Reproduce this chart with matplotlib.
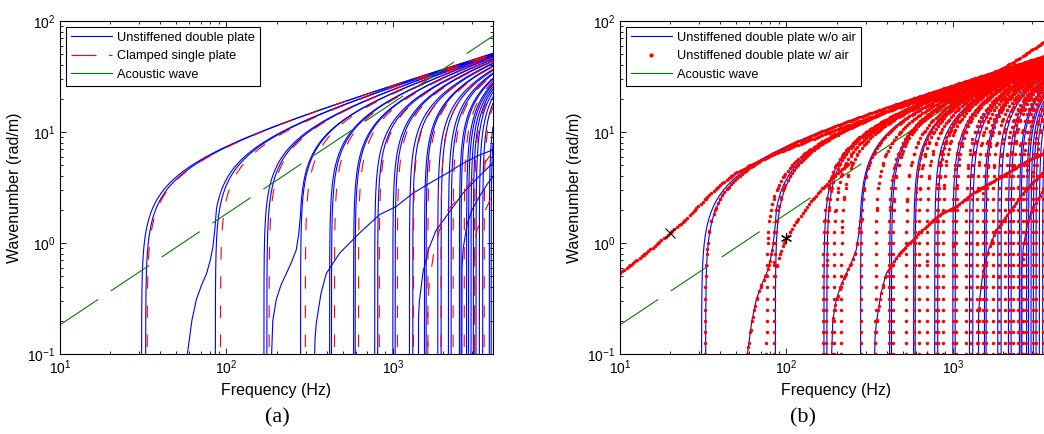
import numpy as np
import matplotlib
matplotlib.use("Agg")
import matplotlib.pyplot as plt
from matplotlib.lines import Line2D

plt.rcParams['font.family'] = ['Liberation Sans', 'DejaVu Sans']
plt.rcParams['mathtext.fontset'] = 'custom'
plt.rcParams['mathtext.rm'] = 'Liberation Sans'
plt.rcParams['lines.scale_dashes'] = False

F_MAX = 4000.0
# bending wave: k_b = KB_C * f**KB_Q  (about 50 rad/m at 4 kHz on the first branch)
KB_C = 1.04
KB_Q = 0.47

# cut-on frequencies (Hz) read at k = 0.1 rad/m
blue_cuton = [30.9, 32.7, 85.8, 168, 175, 279, 417, 428, 581, 594, 778, 811,
              1000, 1033, 1259, 1318, 1549, 1585, 1862, 1950, 2158, 2240,
              2512, 2570, 2773, 2850, 2951, 3048, 3162, 3311, 3467, 3800, 3900]
red_cuton = [33.4, 92.1, 180.5, 298, 446, 622, 829, 1065, 1330, 1624, 1948,
             2302, 2685, 3097, 3539]
air_cuton = [32.4, 75.9, 84.2, 166, 174, 192, 213, 279, 343, 412, 436, 524,
             588, 624, 697, 794, 813, 871, 1000, 1047, 1202, 1288, 1393, 1514,
             1585, 1738, 1884, 2065, 2188, 2290, 2455, 2630, 2754, 3020, 3162,
             3470, 3800]

# slanted (coupled) branches of the double plate, (Hz, rad/m)
s1_f = [58.3, 62, 66, 71, 76, 80, 83, 85.5, 87]
s1_k = [0.1, 0.2, 0.31, 0.42, 0.53, 0.7, 0.93, 1.4, 2.0]
s2_f = [187, 190, 199.5, 213, 229, 247, 263, 272, 278]
s2_k = [0.1, 0.2, 0.31, 0.42, 0.53, 0.68, 0.87, 1.2, 1.7]
s3_f = [339, 341, 347, 370, 398, 479, 631, 832, 1047, 1318, 1660, 2089, 2630, 3311, 4000]
s3_k = [0.1, 0.14, 0.19, 0.35, 0.53, 0.81, 1.23, 1.8, 2.13, 2.8, 3.45, 4.2, 5.2, 6.2, 6.9]
s4_f = [1426, 1428, 1445, 1520, 1650, 1820, 2089, 2400, 2630, 3200, 3802, 4000]
s4_k = [0.1, 0.22, 0.3, 0.55, 0.9, 1.3, 1.73, 2.3, 2.8, 3.8, 4.9, 5.3]
s5_f = [2600, 2605, 2650, 2800, 3000, 3300, 3700, 4000]
s5_k = [0.1, 0.6, 0.9, 1.5, 2.0, 2.6, 3.4, 4.0]

# slanted branches of the clamped single plate
r1_f = [1624, 1626, 1660, 1760, 1905, 2150, 2630, 3200, 3800, 4000]
r1_k = [0.1, 0.3, 0.45, 0.8, 1.3, 2.0, 2.8, 4.2, 6.0, 6.6]
r2_f = [3100, 3105, 3200, 3500, 4000]
r2_k = [0.1, 1.0, 1.3, 1.8, 2.8]

# extra branches with air
a1_f = [10, 12, 15, 20, 25, 30, 35, 40, 50, 70, 100, 200, 400, 700, 1000, 1500, 2000, 2500, 3000, 4000]
a1_k = [0.54, 0.66, 0.86, 1.23, 1.65, 2.2, 2.8, 3.35, 4.3, 5.6, 7.0, 10.5, 15.3, 20.3, 24.4, 30.3, 37.5, 45.8, 55, 73.3]
a2_f = [85, 88, 93, 100, 115, 130, 145, 170, 200, 250]
a2_k = [0.5, 0.66, 0.85, 1.11, 1.57, 2.0, 2.5, 3.3, 4.2, 5.5]

# acoustic wave
ac_f = [10, 4000]
ac_k = [0.183, 73.3]

# marked points in (b)
cross_pt = (20, 1.23)
star_pt = (100, 1.1)

K_GRID = np.logspace(-1, 2, 31)
F_GRID = np.logspace(1, np.log10(F_MAX), 200)

BLUE = '#0000ff'
RED = '#ff0000'
GREEN = '#008000'


def kb(f):
    return KB_C * np.power(f, KB_Q)


def f_of_k(fc, k):
    return ((k ** 2 + kb(fc) ** 2) / KB_C ** 2) ** (1.0 / (2 * KB_Q))


def k_of_f(fc, f):
    return np.sqrt(np.clip(kb(f) ** 2 - kb(fc) ** 2, 0, None))


def branch_line(fc):
    k = np.logspace(-1.2, 2.1, 500)
    f = f_of_k(fc, k)
    m = f <= F_MAX
    f, k = f[m], k[m]
    f = np.append(f, F_MAX)
    k = np.append(k, k_of_f(fc, F_MAX))
    return f, k


def joined(fp, kp):
    # read points, then carry on along a bending branch
    kc2 = kb(fp[-1]) ** 2 - kp[-1] ** 2
    fc = (kc2 / KB_C ** 2) ** (1.0 / (2 * KB_Q))
    bf, bk = branch_line(fc)
    m = bk > kp[-1]
    return np.concatenate([fp, bf[m]]), np.concatenate([kp, bk[m]])


def branch_dots(fc):
    f1 = f_of_k(fc, K_GRID)
    k1 = K_GRID
    m1 = f1 <= F_MAX
    f2 = F_GRID[F_GRID > fc]
    k2 = k_of_f(fc, f2)
    return np.concatenate([f1[m1], f2]), np.concatenate([k1[m1], k2])


def poly_dots(fp, kp):
    lf, lk = np.log10(fp), np.log10(kp)
    kg = K_GRID[(K_GRID >= kp[0]) & (K_GRID <= kp[-1])]
    fg = F_GRID[(F_GRID >= fp[0]) & (F_GRID <= fp[-1])]
    f1 = 10 ** np.interp(np.log10(kg), lk, lf)
    k2 = 10 ** np.interp(np.log10(fg), lf, lk)
    return np.concatenate([f1, fg]), np.concatenate([kg, k2])


def style_axes(ax):
    ax.set_xscale('log')
    ax.set_yscale('log')
    ax.set_xlim(10, F_MAX)
    ax.set_ylim(0.1, 100)
    ax.tick_params(which='both', direction='in', top=True, right=True, labelsize=10, width=0.6)
    ax.tick_params(which='major', length=4)
    ax.tick_params(which='minor', length=2.2)
    for sp in ax.spines.values():
        sp.set_linewidth(0.8)
    ax.set_xlabel('Frequency (Hz)', fontsize=11.5, labelpad=4)
    ax.set_ylabel('Wavenumber (rad/m)', fontsize=11.5)
    ax.yaxis.set_label_coords(-0.087, 0.5)


def make_legend(ax, handles, labels):
    lg = ax.legend(handles, labels, loc='upper left', fontsize=9.2, frameon=True,
                   fancybox=False, edgecolor='black', framealpha=1, handlelength=3.2,
                   handletextpad=0.4, labelspacing=0.5, borderpad=0.4,
                   borderaxespad=0.45, numpoints=1)
    lg.get_frame().set_linewidth(0.8)


fig = plt.figure(figsize=(10.44, 4.34), dpi=100)
ax1 = fig.add_axes([60 / 1044, 80 / 434, 433 / 1044, 333 / 434])
ax2 = fig.add_axes([620 / 1044, 80 / 434, 433 / 1044, 333 / 434])

lw = 0.8
red_dash = (0, (9, 12))
ac_dash = (0, (33, 11))

# ---- (a)
for fc in blue_cuton:
    f, k = branch_line(fc)
    ax1.plot(f, k, color=BLUE, lw=lw)
for fp, kp in [(s1_f, s1_k), (s2_f, s2_k)]:
    f, k = joined(np.array(fp, float), np.array(kp, float))
    ax1.plot(f, k, color=BLUE, lw=lw)
for fp, kp in [(s3_f, s3_k), (s4_f, s4_k), (s5_f, s5_k)]:
    ax1.plot(fp, kp, color=BLUE, lw=lw)
for fc in red_cuton:
    f, k = branch_line(fc)
    ax1.plot(f, k, color=RED, lw=lw, ls=red_dash)
for fp, kp in [(r1_f, r1_k), (r2_f, r2_k)]:
    ax1.plot(fp, kp, color=RED, lw=lw, ls=red_dash)
ax1.plot(ac_f, ac_k, color=GREEN, lw=lw, ls=ac_dash)
style_axes(ax1)

make_legend(ax1,
            [Line2D([], [], color=BLUE, lw=lw),
             Line2D([], [], color=RED, lw=lw, ls=(0, (18, 9))),
             Line2D([], [], color=GREEN, lw=lw)],
            ['Unstiffened double plate', 'Clamped single plate', 'Acoustic wave'])

# ---- (b)
for fc in blue_cuton:
    f, k = branch_line(fc)
    ax2.plot(f, k, color=BLUE, lw=lw)
for fp, kp in [(s1_f, s1_k), (s2_f, s2_k)]:
    f, k = joined(np.array(fp, float), np.array(kp, float))
    ax2.plot(f, k, color=BLUE, lw=lw)
for fp, kp in [(s3_f, s3_k), (s4_f, s4_k), (s5_f, s5_k)]:
    ax2.plot(fp, kp, color=BLUE, lw=lw)
ax2.plot(ac_f, ac_k, color=GREEN, lw=lw, ls=ac_dash)

dots_f, dots_k = [], []
for fc in air_cuton:
    f, k = branch_dots(fc)
    dots_f.append(f)
    dots_k.append(k)
for fp, kp in [(s1_f, s1_k), (s2_f, s2_k), (s3_f, s3_k), (s4_f, s4_k),
               (s5_f, s5_k), (a1_f, a1_k), (a2_f, a2_k)]:
    f, k = poly_dots(np.array(fp, float), np.array(kp, float))
    dots_f.append(f)
    dots_k.append(k)
ax2.plot(np.concatenate(dots_f), np.concatenate(dots_k), ls='none', marker='o',
         ms=2.5, mew=0, color=RED)
ax2.plot(*cross_pt, marker='x', ms=7, mew=0.8, color='black')
ax2.plot(*star_pt, marker=(6, 2, 0), ms=8, mew=0.8, color='black')
style_axes(ax2)

make_legend(ax2,
            [Line2D([], [], color=BLUE, lw=lw),
             Line2D([], [], ls='none', marker='o', ms=3, mew=0, color=RED),
             Line2D([], [], color=GREEN, lw=lw)],
            ['Unstiffened double plate w/o air', 'Unstiffened double plate w/ air',
             'Acoustic wave'])

fig.text(277 / 1044, 1 - 418 / 434, '(a)', family='Liberation Serif', fontsize=16,
         ha='center', va='center')
fig.text(803 / 1044, 1 - 418 / 434, '(b)', family='Liberation Serif', fontsize=16,
         ha='center', va='center')

fig.savefig('out.png', dpi=100)
